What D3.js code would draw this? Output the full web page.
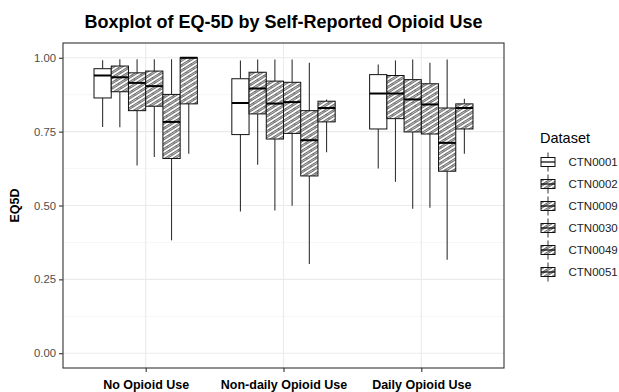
<!DOCTYPE html>
<html>
<head>
<meta charset="utf-8">
<script src="https://cdn.jsdelivr.net/npm/d3@7"></script>
<style>
  html, body { margin: 0; padding: 0; background: #fff; }
  svg { display: block; font-family: "Liberation Sans", Arial, sans-serif; }
</style>
</head>
<body>
<svg id="chart" width="619" height="392"></svg>
<script>
// Opioid-use groups on the x axis and the study datasets dodged within each
const groups = ["No Opioid Use", "Non-daily Opioid Use", "Daily Opioid Use"];
const datasets = ["CTN0001", "CTN0002", "CTN0009", "CTN0030", "CTN0049", "CTN0051"];

// Five-number summaries, one row per group, one entry per dataset
const whiskerLow = [
  [0.766, 0.765, 0.635, 0.664, 0.382, 0.675],
  [0.480, 0.638, 0.483, 0.499, 0.302, 0.680],
  [0.625, 0.580, 0.489, 0.492, 0.316, 0.675]
];
const q1 = [
  [0.864, 0.885, 0.821, 0.836, 0.659, 0.844],
  [0.740, 0.810, 0.725, 0.744, 0.600, 0.783],
  [0.759, 0.794, 0.749, 0.742, 0.616, 0.759]
];
const median = [
  [0.940, 0.934, 0.915, 0.904, 0.783, 1.000],
  [0.847, 0.896, 0.845, 0.850, 0.721, 0.830],
  [0.879, 0.879, 0.859, 0.842, 0.712, 0.830]
];
const q3 = [
  [0.963, 0.972, 0.949, 0.955, 0.876, 1.000],
  [0.929, 0.951, 0.921, 0.917, 0.821, 0.853],
  [0.943, 0.940, 0.926, 0.912, 0.830, 0.844]
];
const whiskerHigh = [
  [0.992, 0.995, 0.995, 0.995, 0.995, 1.000],
  [0.991, 0.994, 0.994, 0.994, 0.983, 0.859],
  [0.977, 0.991, 0.994, 0.983, 0.994, 0.861]
];
const yTicks = [0, 0.25, 0.5, 0.75, 1.0];
const yMinor = [0.125, 0.375, 0.625, 0.875];

const svg = d3.select("#chart");
const panel = { left: 63, right: 504, top: 43, bottom: 368 };

const x = d3.scalePoint().domain(groups).range([panel.left, panel.right]).padding(0.6);
const y = d3.scaleLinear().domain([-0.05, 1.05]).range([panel.bottom, panel.top]);
const boxW = x.step() * 0.75 / datasets.length;

// Diagonal stripe fill for the hatched datasets
const defs = svg.append("defs");
const pat = defs.append("pattern")
  .attr("id", "hatch")
  .attr("patternUnits", "userSpaceOnUse")
  .attr("width", 8).attr("height", 4.4)
  .attr("patternTransform", "rotate(-32)");
pat.append("rect").attr("width", 8).attr("height", 4.4).attr("fill", "#fff");
pat.append("rect").attr("y", 1.2).attr("width", 8).attr("height", 1.8)
  .attr("fill", "#bcbcbc").attr("stroke", "#444").attr("stroke-width", 0.6);

const fillFor = (i) => i === 0 ? "#fff" : "url(#hatch)";

// Panel background and grid
svg.append("rect")
  .attr("x", panel.left).attr("y", panel.top)
  .attr("width", panel.right - panel.left).attr("height", panel.bottom - panel.top)
  .attr("fill", "#fff");

const grid = svg.append("g");
grid.selectAll("line.minor").data(yMinor).join("line")
  .attr("x1", panel.left).attr("x2", panel.right)
  .attr("y1", d => y(d)).attr("y2", d => y(d))
  .attr("stroke", "#f0f0f0").attr("stroke-width", 0.6);
grid.selectAll("line.major").data(yTicks).join("line")
  .attr("x1", panel.left).attr("x2", panel.right)
  .attr("y1", d => y(d)).attr("y2", d => y(d))
  .attr("stroke", "#ebebeb").attr("stroke-width", 1.1);
grid.selectAll("line.vert").data(groups).join("line")
  .attr("x1", d => x(d)).attr("x2", d => x(d))
  .attr("y1", panel.top).attr("y2", panel.bottom)
  .attr("stroke", "#ebebeb").attr("stroke-width", 1.1);

// Boxes
const cells = [];
groups.forEach((g, gi) => {
  datasets.forEach((ds, di) => {
    cells.push({
      g, gi, ds, di,
      cx: x(g) + (di - (datasets.length - 1) / 2) * boxW,
      lo: whiskerLow[gi][di], q1: q1[gi][di], med: median[gi][di],
      q3: q3[gi][di], hi: whiskerHigh[gi][di]
    });
  });
});

const boxes = svg.append("g").selectAll("g").data(cells).join("g");
boxes.append("line")
  .attr("x1", d => d.cx).attr("x2", d => d.cx)
  .attr("y1", d => y(d.hi)).attr("y2", d => y(d.q3))
  .attr("stroke", "#333").attr("stroke-width", 1.1);
boxes.append("line")
  .attr("x1", d => d.cx).attr("x2", d => d.cx)
  .attr("y1", d => y(d.q1)).attr("y2", d => y(d.lo))
  .attr("stroke", "#333").attr("stroke-width", 1.1);
boxes.append("rect")
  .attr("x", d => d.cx - boxW / 2).attr("width", boxW)
  .attr("y", d => y(d.q3)).attr("height", d => y(d.q1) - y(d.q3))
  .attr("fill", d => fillFor(d.di))
  .attr("stroke", "#111").attr("stroke-width", 1);
boxes.append("line")
  .attr("x1", d => d.cx - boxW / 2).attr("x2", d => d.cx + boxW / 2)
  .attr("y1", d => y(d.med)).attr("y2", d => y(d.med))
  .attr("stroke", "#000").attr("stroke-width", 2);

// Panel border
svg.append("rect")
  .attr("x", panel.left).attr("y", panel.top)
  .attr("width", panel.right - panel.left).attr("height", panel.bottom - panel.top)
  .attr("fill", "none").attr("stroke", "#333").attr("stroke-width", 1.1);

// Axes
const yAxis = svg.append("g")
  .attr("transform", `translate(${panel.left},0)`)
  .call(d3.axisLeft(y).tickValues(yTicks).tickFormat(d3.format(".2f")).tickSize(4).tickPadding(3));
yAxis.select(".domain").remove();
yAxis.selectAll(".tick line").attr("stroke", "#333").attr("stroke-width", 1.1);
yAxis.selectAll(".tick text").attr("fill", "#4d4d4d").style("font-size", "11.3px");

const xAxis = svg.append("g")
  .attr("transform", `translate(0,${panel.bottom})`)
  .call(d3.axisBottom(x).tickSize(4).tickPadding(8));
xAxis.select(".domain").remove();
xAxis.selectAll(".tick line").attr("stroke", "#333").attr("stroke-width", 1.1);
xAxis.selectAll(".tick text").attr("fill", "#000")
  .style("font-size", "12.5px").style("font-weight", "bold");

// Titles
svg.append("text")
  .attr("x", (panel.left + panel.right) / 2).attr("y", 28)
  .attr("text-anchor", "middle")
  .style("font-size", "18px").style("font-weight", "bold")
  .text("Boxplot of EQ-5D by Self-Reported Opioid Use");

svg.append("text")
  .attr("transform", `translate(19,${(panel.top + panel.bottom) / 2}) rotate(-90)`)
  .attr("text-anchor", "middle")
  .style("font-size", "12.5px").style("font-weight", "bold")
  .text("EQ5D");

// Legend
const legend = svg.append("g").attr("transform", "translate(540,0)");
legend.append("text")
  .attr("x", 0).attr("y", 143)
  .style("font-size", "14.5px").attr("fill", "#000")
  .text("Dataset");

const items = legend.selectAll("g.item").data(datasets).join("g")
  .attr("transform", (d, i) => `translate(8,${162 + i * 22})`);
items.append("line")
  .attr("x1", 0).attr("x2", 0).attr("y1", -9.5).attr("y2", 9.5)
  .attr("stroke", "#333").attr("stroke-width", 1);
items.append("rect")
  .attr("x", -7).attr("y", -4.5).attr("width", 14).attr("height", 9)
  .attr("fill", (d, i) => fillFor(i))
  .attr("stroke", "#111").attr("stroke-width", 1);
items.append("line")
  .attr("x1", -7).attr("x2", 7).attr("y1", 0).attr("y2", 0)
  .attr("stroke", "#000").attr("stroke-width", 1.2);
items.append("text")
  .attr("x", 20.5).attr("y", 4)
  .style("font-size", "11.5px").attr("fill", "#222")
  .text(d => d);
</script>
</body>
</html>
